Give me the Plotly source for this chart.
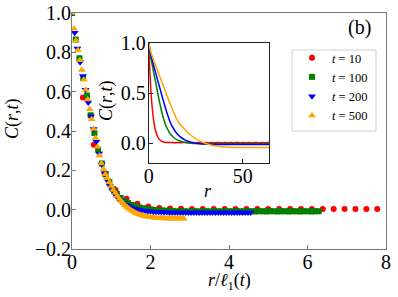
import plotly.graph_objects as go

# ---------------- data ----------------
t_values = ["10", "100", "200", "500"]
ell1 = [3.6, 10.5, 14.5, 20.0]         # l_1(t) used for scaling
r_max_main = [28, 66, 66, 57]           # last r shown in main panel
r = list(range(70))

C_t10 = [1.0, 0.57, 0.33, 0.18, 0.10, 0.055, 0.03, 0.016, 0.009, 0.006,
         0.005, 0.004, 0.004, 0.004, 0.003, 0.004, 0.004, 0.003, 0.004, 0.004,
         0.004, 0.004, 0.003, 0.004, 0.004, 0.003, 0.004, 0.004, 0.004, 0.003,
         0.004, 0.004, 0.003, 0.004, 0.004, 0.003, 0.004, 0.004, 0.004, 0.003,
         0.004, 0.004, 0.003, 0.004, 0.004, 0.003, 0.004, 0.004, 0.004, 0.003,
         0.004, 0.004, 0.003, 0.004, 0.004, 0.003, 0.004, 0.004, 0.004, 0.003,
         0.004, 0.004, 0.003, 0.004, 0.004, 0.003, 0.004, 0.004, 0.004, 0.003]
C_t100 = [1.0, 0.865, 0.77, 0.67, 0.58, 0.48, 0.39, 0.305, 0.235, 0.18,
          0.14, 0.105, 0.08, 0.06, 0.045, 0.033, 0.024, 0.017, 0.011, 0.007,
          0.004, 0.001, -0.001, -0.003, -0.004, -0.005, -0.006, -0.007, -0.008, -0.008,
          -0.008, -0.009, -0.008, -0.008, -0.009, -0.008, -0.008, -0.009, -0.008, -0.008,
          -0.009, -0.008, -0.008, -0.009, -0.008, -0.008, -0.009, -0.008, -0.008, -0.009,
          -0.008, -0.008, -0.009, -0.008, -0.008, -0.009, -0.008, -0.008, -0.009, -0.008,
          -0.008, -0.009, -0.008, -0.008, -0.009, -0.008, -0.008, -0.009, -0.008, -0.008]
C_t200 = [1.0, 0.90, 0.82, 0.75, 0.68, 0.61, 0.545, 0.475, 0.41, 0.345,
          0.285, 0.23, 0.185, 0.15, 0.12, 0.095, 0.075, 0.058, 0.045, 0.034,
          0.025, 0.017, 0.011, 0.006, 0.002, -0.001, -0.004, -0.006, -0.008, -0.009,
          -0.010, -0.011, -0.012, -0.012, -0.013, -0.013, -0.014, -0.014, -0.014, -0.014,
          -0.014, -0.014, -0.015, -0.014, -0.014, -0.015, -0.014, -0.014, -0.015, -0.014,
          -0.014, -0.015, -0.014, -0.014, -0.015, -0.014, -0.014, -0.015, -0.014, -0.014,
          -0.015, -0.014, -0.014, -0.015, -0.014, -0.014, -0.015, -0.014, -0.014, -0.015]
C_t500 = [1.0, 0.92, 0.86, 0.81, 0.76, 0.71, 0.66, 0.61, 0.56, 0.51,
          0.46, 0.41, 0.365, 0.32, 0.275, 0.235, 0.205, 0.18, 0.16, 0.14,
          0.12, 0.10, 0.085, 0.07, 0.056, 0.043, 0.032, 0.022, 0.013, 0.005,
          -0.002, -0.008, -0.014, -0.019, -0.023, -0.027, -0.030, -0.033, -0.035, -0.037,
          -0.039, -0.040, -0.041, -0.042, -0.043, -0.044, -0.044, -0.045, -0.045, -0.045,
          -0.045, -0.046, -0.045, -0.045, -0.046, -0.045, -0.045, -0.046, -0.045, -0.045,
          -0.046, -0.045, -0.045, -0.046, -0.045, -0.045, -0.046, -0.045, -0.045, -0.046]

series_C = [C_t10, C_t100, C_t200, C_t500]
colors = ["red", "green", "blue", "orange"]
symbols = ["circle", "square", "triangle-down", "triangle-up"]
sizes = [6, 6, 7, 7]

main_xticks = [0, 2, 4, 6, 8]
main_yticks = [-0.2, 0.0, 0.2, 0.4, 0.6, 0.8, 1.0]
inset_xticks = [0, 50]
inset_yticks = [0.0, 0.5, 1.0]

FONT = "Liberation Serif"
W, H = 398, 297

fig = go.Figure()

# main panel: scaled markers
for C, l, rm, col, sym, sz, tv in zip(series_C, ell1, r_max_main, colors, symbols, sizes, t_values):
    rs = r[:rm + 1]
    fig.add_trace(go.Scatter(
        x=[ri / l for ri in rs], y=C[:rm + 1], mode="markers",
        marker=dict(color=col, symbol=sym, size=sz, line=dict(width=0)),
        name=f"<i>t</i> = {tv}", xaxis="x", yaxis="y"))

# inset: unscaled lines
for C, col in zip(series_C, colors):
    fig.add_trace(go.Scatter(
        x=r, y=C, mode="lines", line=dict(color=col, width=1.5, shape="spline", smoothing=0.6),
        showlegend=False, xaxis="x2", yaxis="y2"))

def px_x(p):
    return p / W

def px_y(p):
    return (H - p) / H

axis_common = dict(showgrid=False, zeroline=False, showline=True, mirror=True,
                   automargin=False,
                   ticks="inside", ticklen=4, tickwidth=1,
                   tickfont=dict(family=FONT, size=20, color="black"))

fig.update_layout(
    template="none",
    width=W, height=H, autosize=False,
    margin=dict(l=0, r=0, t=0, b=0, pad=0),
    paper_bgcolor="white", plot_bgcolor="white",
    font=dict(family=FONT, color="black"),
    xaxis=dict(domain=[px_x(72), px_x(386)], range=[0, 8], tickvals=main_xticks,
               ticklabelstandoff=-5,
               linecolor="#777", tickcolor="#777", anchor="y", **axis_common),
    yaxis=dict(domain=[px_y(249), px_y(13)], range=[-0.2, 1.0], tickvals=main_yticks,
               tickformat=".1f", ticklabelstandoff=-4,
               linecolor="#777", tickcolor="#777", anchor="x", **axis_common),
    xaxis2=dict(domain=[px_x(148.7), px_x(269)], range=[0, 64], tickvals=inset_xticks,
                ticklabelstandoff=-5,
                linecolor="#222", tickcolor="#222", anchor="y2", **axis_common),
    yaxis2=dict(domain=[px_y(163), px_y(43)], range=[-0.2, 1.0], tickvals=inset_yticks,
                tickformat=".1f", ticklabelstandoff=-2,
                linecolor="#222", tickcolor="#222", anchor="x2", **axis_common),
    legend=dict(x=px_x(292), y=px_y(43), xanchor="left", yanchor="top",
                borderwidth=0, bgcolor="rgba(0,0,0,0)",
                font=dict(family=FONT, size=12.5, color="black")),
    showlegend=True,
)

# legend frame (light grey box like the reference)
fig.add_shape(type="rect", xref="paper", yref="paper",
              x0=px_x(292), x1=px_x(376), y0=px_y(131), y1=px_y(50),
              line=dict(color="#d0d0d0", width=1), fillcolor="white", layer="above")

annots = [
    dict(text="(b)", x=px_x(359), y=px_y(27), size=20, angle=0),
    dict(text="<i>C</i>(<i>r</i>,<i>t</i>)", x=px_x(13), y=px_y(119), size=18, angle=-90),
    dict(text="<i>r</i>/<i>ℓ</i><sub>1</sub>(<i>t</i>)", x=px_x(229), y=px_y(281), size=18, angle=0),
    dict(text="<i>C</i>(<i>r</i>,<i>t</i>)", x=px_x(106), y=px_y(101), size=18, angle=-90),
    dict(text="<i>r</i>", x=px_x(208), y=px_y(191), size=18, angle=0),
]
for a in annots:
    fig.add_annotation(text=a["text"], x=a["x"], y=a["y"], xref="paper", yref="paper",
                       xanchor="center", yanchor="middle", showarrow=False,
                       textangle=a["angle"], font=dict(family=FONT, size=a["size"], color="black"))

fig.write_html("out.html", config={"displayModeBar": False},
               post_script="document.body.style.margin='0';document.body.style.overflow='hidden';")
